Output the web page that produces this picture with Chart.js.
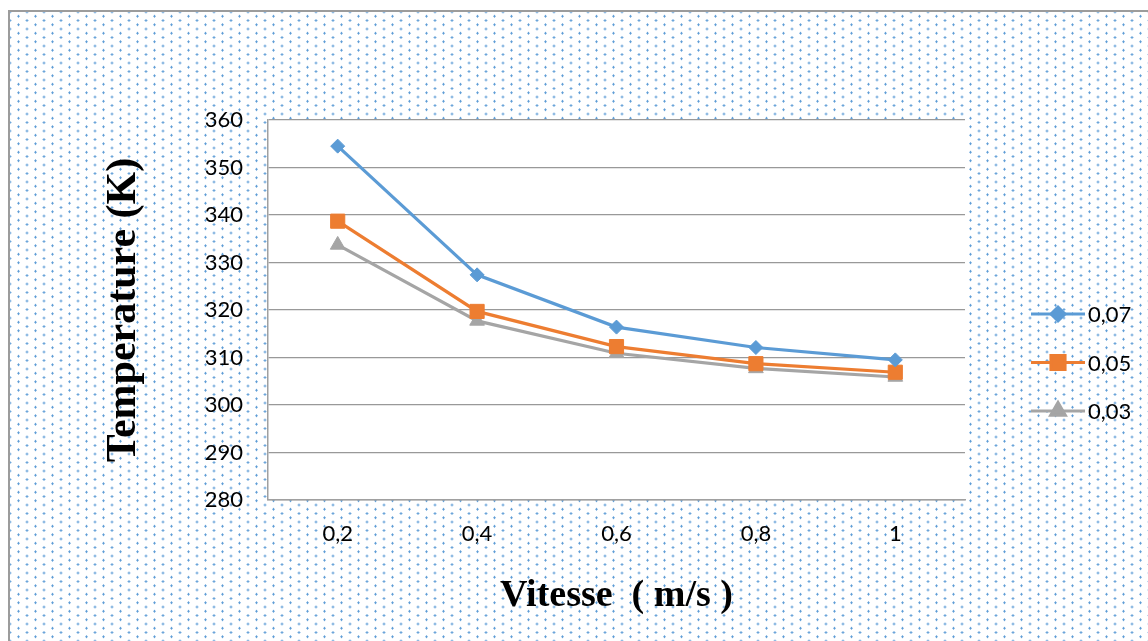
<!DOCTYPE html>
<html>
<head>
<meta charset="utf-8">
<script src="https://cdn.jsdelivr.net/npm/chart.js@4"></script>
<style>
  html, body { margin: 0; padding: 0; background: #fff; overflow: hidden; }
  #frame {
    position: absolute; left: 8px; top: 10px; width: 1160px; height: 660px;
    border-left: 2px solid #9c9c9c; border-top: 2px solid #9c9c9c;
    background-color: #fff;
    background-image:
      radial-gradient(circle, #5b9bd5 0.9px, rgba(91,155,213,0) 1.4px),
      radial-gradient(circle, #5b9bd5 0.9px, rgba(91,155,213,0) 1.4px);
    background-size: 17px 8.5px, 17px 8.5px;
    background-position: 0 0, 8.5px 4.25px;
  }
  #c { position: absolute; left: 0; top: 0; }
</style>
</head>
<body>
<div id="frame"></div>
<canvas id="c" width="1148" height="641"></canvas>
<script>
const vitesse = ['0,2', '0,4', '0,6', '0,8', '1'];
const seriesNames = ['0,07', '0,05', '0,03'];
const temp007 = [354.5, 327.4, 316.4, 312.1, 309.5];
const temp005 = [338.7, 319.7, 312.3, 308.7, 306.9];
const temp003 = [333.7, 317.7, 310.9, 307.7, 305.9];
const yMin = 280, yMax = 360, yStep = 10;

const colors = ['#5b9bd5', '#ed7d31', '#a5a5a5'];
const markers = [
  { style: 'rectRot', radius: 7 },
  { style: 'rect', radius: 10 },
  { style: 'triangle', radius: 8.5 }
];

// white plot area behind the lines
const plotBg = {
  id: 'plotBg',
  beforeDraw(chart) {
    const a = chart.chartArea;
    chart.ctx.save();
    chart.ctx.fillStyle = '#ffffff';
    chart.ctx.fillRect(a.left, a.top, a.right - a.left, a.bottom - a.top);
    chart.ctx.restore();
  }
};

// excel style legend: line with marker in the middle
const sideLegend = {
  id: 'sideLegend',
  afterDraw(chart) {
    const ctx = chart.ctx;
    const x0 = 1031, x1 = 1085;
    chart.data.datasets.forEach((ds, i) => {
      const y = 314 + i * 48.5;
      ctx.save();
      ctx.strokeStyle = ds.borderColor;
      ctx.lineWidth = 3;
      ctx.beginPath();
      ctx.moveTo(x0, y);
      ctx.lineTo(x1, y);
      ctx.stroke();
      ctx.fillStyle = ds.pointBackgroundColor;
      ctx.strokeStyle = ds.pointBorderColor;
      Chart.helpers.drawPoint(ctx, {
        pointStyle: ds.pointStyle, radius: ds.pointRadius, rotation: 0, borderWidth: 1
      }, (x0 + x1) / 2, y);
      ctx.fillStyle = '#000';
      ctx.font = '22px Lato';
      ctx.textBaseline = 'middle';
      ctx.fillText(ds.label, 1088, y + 1);
      ctx.restore();
    });
  }
};

const values = [temp007, temp005, temp003];
const datasets = seriesNames.map((name, i) => ({
  label: name,
  data: values[i],
  borderColor: colors[i],
  backgroundColor: colors[i],
  pointBackgroundColor: colors[i],
  pointBorderColor: colors[i],
  pointStyle: markers[i].style,
  pointRadius: markers[i].radius,
  pointBorderWidth: 1,
  borderWidth: 3.2,
  tension: 0
}));

new Chart(document.getElementById('c'), {
  type: 'line',
  data: { labels: vitesse, datasets: datasets },
  plugins: [plotBg, sideLegend],
  options: {
    responsive: false,
    animation: false,
    layout: { padding: { left: 0, top: 120, right: 183, bottom: 0 } },
    plugins: { legend: { display: false }, tooltip: { enabled: false } },
    scales: {
      x: {
        offset: true,
        grid: { display: false, drawTicks: false },
        border: { display: true, color: '#a0a0a0', width: 1.5 },
        ticks: { color: '#000', font: { family: 'Lato', size: 22 }, padding: 21 },
        title: {
          display: true, text: 'Vitesse  ( m/s )', color: '#000',
          font: { family: 'Liberation Serif', size: 38, weight: 'bold' },
          padding: { top: 0, bottom: 22 }
        },
        afterFit(scale) { scale.height = 141; }
      },
      y: {
        min: yMin, max: yMax,
        grid: { color: '#999999', lineWidth: 1.3, drawTicks: false },
        border: { display: true, color: '#a0a0a0', width: 1.5 },
        ticks: { stepSize: yStep, color: '#000', font: { family: 'Lato', size: 22 }, padding: 25 },
        title: {
          display: true, text: 'Temperature (K)', color: '#000',
          font: { family: 'Liberation Serif', size: 42, weight: 'bold' },
          padding: { top: 99, bottom: 0 }
        },
        afterFit(scale) { scale.width = 268; }
      }
    }
  }
});
</script>
</body>
</html>
